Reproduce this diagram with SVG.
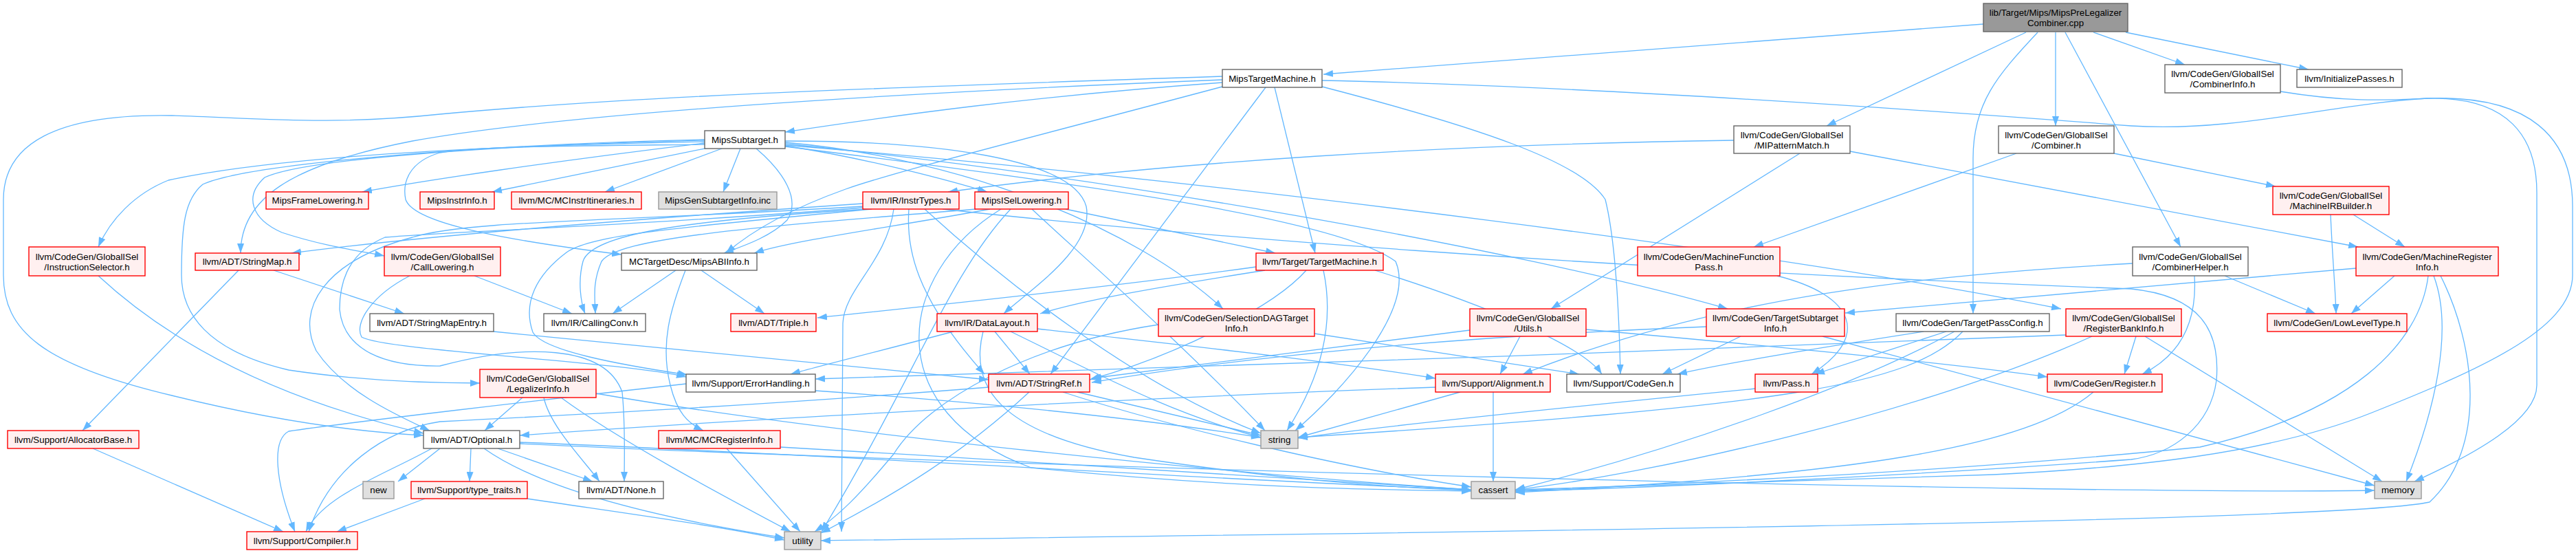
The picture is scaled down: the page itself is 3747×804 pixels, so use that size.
<svg xmlns="http://www.w3.org/2000/svg" width="3747" height="804" viewBox="0 0 3747 804">
<style>
.n rect{stroke-width:1.4}
.w rect{fill:#ffffff;stroke:#666666}
.r rect{fill:#fff0f0;stroke:#ff0000}
.g rect{fill:#e0e0e0;stroke:#999999}
.k rect{fill:#999999;stroke:#666666}
text{font-family:"Liberation Sans",Arial,Helvetica,sans-serif;font-size:13.33px;fill:#000;text-anchor:middle}
#edges path{fill:none;stroke:#63b8ff;stroke-width:1.3;marker-end:url(#a)}
</style>
<defs>
<marker id="a" markerUnits="userSpaceOnUse" markerWidth="14" markerHeight="10" refX="14" refY="5" orient="auto">
<path d="M0,0 L14,5 L0,10 z" fill="#63b8ff"/>
</marker>
</defs>
<rect width="3747" height="804" fill="#ffffff"/>
<g id="edges">
<path d="M2885,35 L1925,108"/>
<path d="M2947,47 L2657,183"/>
<path d="M2964,47 C2905,110 2870,150 2870,230 L2870,456"/>
<path d="M2990,47 L2990,183"/>
<path d="M3004,47 L3172,359"/>
<path d="M3045,47 L3178,94"/>
<path d="M3092,47 L3358,101"/>
<path d="M1778,120 C1500,140 1300,168 1142,192"/>
<path d="M1778,116 C1300,135 820,165 600,205 C420,240 350,290 350,368"/>
<path d="M1778,111 C1200,130 900,142 640,166 C480,183 380,172 250,168 C80,165 5,210 5,290 L5,400 C5,480 60,530 250,575 C400,612 520,628 616,633"/>
<path d="M1778,126 C1500,200 1300,250 1230,275 C1160,300 1100,330 1056,368"/>
<path d="M1841,127 L1528,544"/>
<path d="M1854,127 L1913,368"/>
<path d="M1923,126 C2150,185 2300,235 2335,290 C2350,350 2355,450 2357,544"/>
<path d="M1923,117 C2300,125 2800,160 3100,183 C3250,193 3400,150 3530,143 C3650,140 3690,200 3690,280 L3690,560 C3690,610 3600,660 3512,700"/>
<path d="M1025,208 C800,235 620,262 527,279"/>
<path d="M1030,215 L716,279"/>
<path d="M1050,216 L880,279"/>
<path d="M1077,216 L1052,279"/>
<path d="M1142,212 C1260,230 1380,262 1436,279"/>
<path d="M1025,206 C700,212 400,228 245,262 C195,282 160,320 143,359"/>
<path d="M1025,204 C700,212 440,232 385,258 C355,285 365,318 410,338 C470,358 530,366 559,372"/>
<path d="M1025,203 C700,210 360,238 295,268 C268,290 264,330 264,400 C264,455 300,510 420,538 C520,553 620,557 698,557"/>
<path d="M1025,210 C850,212 700,212 640,222 C595,235 585,265 590,290 C600,320 700,345 904,370"/>
<path d="M1100,216 C1140,250 1165,290 1145,320 C1120,345 1080,358 1053,368"/>
<path d="M1142,205 C1350,205 1560,228 1580,300 C1592,360 1500,420 1460,456"/>
<path d="M1142,207 C1400,230 1650,330 1779,449"/>
<path d="M1142,209 C1600,255 2200,360 2513,449"/>
<path d="M1142,211 C1800,265 2600,370 2998,449"/>
<path d="M1142,213 C1600,270 1950,320 2030,380 C2060,450 1950,570 1884,626"/>
<path d="M2522,204 C2100,210 1700,235 1379,279"/>
<path d="M2618,223 L2256,449"/>
<path d="M2691,220 L3430,359"/>
<path d="M2933,223 L2551,359"/>
<path d="M3075,223 L3310,271"/>
<path d="M3317,133 C3420,150 3480,145 3533,143 C3680,138 3742,200 3742,300 L3742,400 C3742,480 3600,540 3450,600 C3300,660 3100,680 2900,690 C2600,700 2400,708 2204,712"/>
<path d="M3102,383 C2800,400 2500,430 2215,544"/>
<path d="M3192,401 C3195,450 3185,510 3116,544"/>
<path d="M3236,401 L3368,456"/>
<path d="M2831,482 L2640,544"/>
<path d="M2798,482 C2650,505 2500,530 2440,544"/>
<path d="M2843,482 C2700,560 2450,650 2204,712"/>
<path d="M2855,482 C2780,560 2600,590 1888,636"/>
<path d="M1550,304 L1855,368"/>
<path d="M1440,304 C1300,330 1150,350 1097,368"/>
<path d="M1420,304 C1100,330 900,345 875,380 C862,410 865,430 866,456"/>
<path d="M1501,304 C1560,360 1700,480 1840,626"/>
<path d="M1470,304 C1380,400 1330,550 1195,773"/>
<path d="M1456,304 C1300,400 1280,600 1500,680 C1800,710 2000,712 2140,714"/>
<path d="M1255,296 C900,320 600,345 424,368"/>
<path d="M1255,300 C900,322 680,320 600,345 C470,380 430,450 460,510 C500,570 580,605 625,626"/>
<path d="M1255,302 C900,330 680,335 560,345 C500,370 494,420 494,450 C500,510 560,533 640,532 C760,500 880,500 905,570 C910,620 908,670 908,700"/>
<path d="M1262,304 C1000,320 860,340 848,380 C840,410 845,440 851,456"/>
<path d="M1268,304 C1000,330 860,340 824,367 C780,400 760,440 775,483 C790,510 900,530 1000,545"/>
<path d="M1322,304 C1318,360 1330,430 1432,544"/>
<path d="M1345,304 C1450,400 1650,560 1834,630"/>
<path d="M1300,304 C1290,380 1228,420 1226,470 L1224,773"/>
<path d="M1371,304 C1700,340 2300,390 3100,420 C3200,430 3230,480 3224,553 C3215,620 3160,660 3100,668 C2800,690 2400,710 2204,714"/>
<path d="M1827,388 C1600,420 1300,450 1189,462"/>
<path d="M1840,393 C1700,415 1580,435 1513,456"/>
<path d="M1900,393 C1850,450 1700,520 1585,552"/>
<path d="M2000,393 C2150,440 2300,500 2330,544"/>
<path d="M1925,393 C1935,440 1940,520 1872,626"/>
<path d="M398,393 L588,456"/>
<path d="M347,393 L120,626"/>
<path d="M690,401 L832,456"/>
<path d="M596,401 C540,430 515,470 526,490 C560,510 900,525 998,548"/>
<path d="M983,393 L891,456"/>
<path d="M1020,393 L1112,456"/>
<path d="M997,393 C975,450 960,500 975,560 C985,600 1000,615 1023,626"/>
<path d="M2585,401 C2700,430 2720,490 2635,544"/>
<path d="M3483,401 L3420,456"/>
<path d="M3427,390 L2684,455"/>
<path d="M3540,401 C3570,480 3540,600 3500,700"/>
<path d="M3550,401 C3600,500 3620,650 3534,730 C3400,760 2000,775 1194,786"/>
<path d="M3532,401 C3520,500 3420,600 3200,650 C2800,690 2400,704 2204,714"/>
<path d="M3423,312 L3498,359"/>
<path d="M3390,312 C3393,380 3397,420 3398,456"/>
<path d="M2482,475 C2100,490 1800,520 1588,556"/>
<path d="M2532,489 L2418,544"/>
<path d="M2651,489 L3454,706"/>
<path d="M2211,489 L2182,544"/>
<path d="M2138,480 C1900,510 1700,535 1588,550"/>
<path d="M2307,479 C2600,505 2850,530 2978,548"/>
<path d="M3107,489 L3090,544"/>
<path d="M3005,487 C2500,510 1500,540 1186,551"/>
<path d="M3043,489 C2800,600 2400,690 2204,712"/>
<path d="M3120,489 L3465,700"/>
<path d="M760,578 L705,626"/>
<path d="M791,578 C800,620 850,670 872,700"/>
<path d="M816,578 C900,640 1050,720 1150,773"/>
<path d="M867,572 C1200,630 1800,690 2140,712"/>
<path d="M998,558 C800,580 500,615 420,627 C395,640 400,700 429,773"/>
<path d="M1186,568 C1500,590 1700,615 1834,636"/>
<path d="M1438,563 C1100,590 800,605 640,613 C560,625 480,680 449,773"/>
<path d="M1497,570 C1400,660 1300,720 1194,775"/>
<path d="M1546,570 C1700,620 1950,680 2140,708"/>
<path d="M1567,570 L1834,633"/>
<path d="M2088,563 C1600,580 1000,615 756,633"/>
<path d="M2124,570 L1888,636"/>
<path d="M2172,570 L2172,700"/>
<path d="M2553,565 C2300,590 2000,620 1888,637"/>
<path d="M3045,570 C2950,650 2700,690 2204,716"/>
<path d="M135,652 L412,773"/>
<path d="M143,401 C250,500 400,580 616,630"/>
<path d="M628,652 C560,690 470,720 445,773"/>
<path d="M640,652 L579,700"/>
<path d="M685,652 L683,700"/>
<path d="M704,652 C800,720 1000,760 1141,782"/>
<path d="M724,652 L862,700"/>
<path d="M756,643 C1200,660 1800,700 2140,712"/>
<path d="M756,645 C1500,680 3000,720 3454,713"/>
<path d="M1057,652 L1164,773"/>
<path d="M1135,650 C1500,670 1900,700 2140,712"/>
<path d="M618,725 L490,773"/>
<path d="M767,725 C900,745 1050,765 1141,785"/>
<path d="M1447,482 L1498,544"/>
<path d="M1387,482 C1300,505 1200,530 1150,544"/>
<path d="M1430,482 C1410,560 1450,630 1650,665 C1850,695 2000,708 2140,713"/>
<path d="M1509,478 C1700,500 1900,520 2088,550"/>
<path d="M1470,482 C1600,545 1700,600 1834,636"/>
<path d="M1912,485 L2297,544"/>
<path d="M1685,472 C1500,500 1350,580 1300,660 C1250,720 1220,750 1185,773"/>
<path d="M718,482 C1000,510 1300,540 1438,552"/>
</g>
<g id="nodes">
<g id="n_root" class="n k"><rect x="2885" y="5" width="210" height="41"/><text x="2990" y="23">lib/Target/Mips/MipsPreLegalizer</text><text x="2990" y="38">Combiner.cpp</text></g>
<g id="n_mtm" class="n w"><rect x="1778" y="101" width="145" height="26"/><text x="1850.5" y="118.5">MipsTargetMachine.h</text></g>
<g id="n_combinerinfo" class="n w"><rect x="3149" y="94" width="168" height="41"/><text x="3233" y="112">llvm/CodeGen/GlobalISel</text><text x="3233" y="127">/CombinerInfo.h</text></g>
<g id="n_initpasses" class="n w"><rect x="3341" y="101" width="153" height="26"/><text x="3417.5" y="118.5">llvm/InitializePasses.h</text></g>
<g id="n_subtarget" class="n w"><rect x="1025" y="190" width="117" height="26"/><text x="1083.5" y="207.5">MipsSubtarget.h</text></g>
<g id="n_mipattern" class="n w"><rect x="2522" y="183" width="169" height="40"/><text x="2606.5" y="201">llvm/CodeGen/GlobalISel</text><text x="2606.5" y="216">/MIPatternMatch.h</text></g>
<g id="n_combiner" class="n w"><rect x="2907" y="183" width="168" height="40"/><text x="2991" y="201">llvm/CodeGen/GlobalISel</text><text x="2991" y="216">/Combiner.h</text></g>
<g id="n_framelow" class="n r"><rect x="387" y="279" width="149" height="25"/><text x="461.5" y="296">MipsFrameLowering.h</text></g>
<g id="n_instrinfo" class="n r"><rect x="611" y="279" width="108" height="25"/><text x="665" y="296">MipsInstrInfo.h</text></g>
<g id="n_mcitin" class="n r"><rect x="744" y="279" width="189" height="25"/><text x="838.5" y="296">llvm/MC/MCInstrItineraries.h</text></g>
<g id="n_gensti" class="n g"><rect x="958" y="279" width="172" height="25"/><text x="1044" y="296">MipsGenSubtargetInfo.inc</text></g>
<g id="n_instrtypes" class="n r"><rect x="1255" y="279" width="140" height="25"/><text x="1325" y="296">llvm/IR/InstrTypes.h</text></g>
<g id="n_isel" class="n r"><rect x="1418" y="279" width="136" height="25"/><text x="1486" y="296">MipsISelLowering.h</text></g>
<g id="n_mirb" class="n r"><rect x="3306" y="271" width="169" height="41"/><text x="3390.5" y="289">llvm/CodeGen/GlobalISel</text><text x="3390.5" y="304">/MachineIRBuilder.h</text></g>
<g id="n_instsel" class="n r"><rect x="42" y="359" width="169" height="42"/><text x="126.5" y="378">llvm/CodeGen/GlobalISel</text><text x="126.5" y="393">/InstructionSelector.h</text></g>
<g id="n_stringmap" class="n r"><rect x="284" y="368" width="151" height="25"/><text x="359.5" y="385">llvm/ADT/StringMap.h</text></g>
<g id="n_calllow" class="n r"><rect x="559" y="359" width="169" height="42"/><text x="643.5" y="378">llvm/CodeGen/GlobalISel</text><text x="643.5" y="393">/CallLowering.h</text></g>
<g id="n_abiinfo" class="n w"><rect x="904" y="368" width="197" height="25"/><text x="1002.5" y="385">MCTargetDesc/MipsABIInfo.h</text></g>
<g id="n_tm" class="n r"><rect x="1827" y="368" width="185" height="25"/><text x="1919.5" y="385">llvm/Target/TargetMachine.h</text></g>
<g id="n_mfp" class="n r"><rect x="2382" y="359" width="207" height="42"/><text x="2485.5" y="378">llvm/CodeGen/MachineFunction</text><text x="2485.5" y="393">Pass.h</text></g>
<g id="n_combhelper" class="n w"><rect x="3102" y="359" width="168" height="42"/><text x="3186" y="378">llvm/CodeGen/GlobalISel</text><text x="3186" y="393">/CombinerHelper.h</text></g>
<g id="n_mri" class="n r"><rect x="3427" y="359" width="207" height="42"/><text x="3530.5" y="378">llvm/CodeGen/MachineRegister</text><text x="3530.5" y="393">Info.h</text></g>
<g id="n_sme" class="n w"><rect x="538" y="456" width="180" height="26"/><text x="628" y="473.5">llvm/ADT/StringMapEntry.h</text></g>
<g id="n_callconv" class="n w"><rect x="791" y="456" width="148" height="26"/><text x="865" y="473.5">llvm/IR/CallingConv.h</text></g>
<g id="n_triple" class="n r"><rect x="1063" y="456" width="124" height="26"/><text x="1125" y="473.5">llvm/ADT/Triple.h</text></g>
<g id="n_datalayout" class="n r"><rect x="1363" y="456" width="146" height="26"/><text x="1436" y="473.5">llvm/IR/DataLayout.h</text></g>
<g id="n_sdagti" class="n r"><rect x="1685" y="449" width="227" height="40"/><text x="1798.5" y="467">llvm/CodeGen/SelectionDAGTarget</text><text x="1798.5" y="482">Info.h</text></g>
<g id="n_utils" class="n r"><rect x="2138" y="449" width="169" height="40"/><text x="2222.5" y="467">llvm/CodeGen/GlobalISel</text><text x="2222.5" y="482">/Utils.h</text></g>
<g id="n_tsi" class="n r"><rect x="2482" y="449" width="201" height="40"/><text x="2582.5" y="467">llvm/CodeGen/TargetSubtarget</text><text x="2582.5" y="482">Info.h</text></g>
<g id="n_tpc" class="n w"><rect x="2758" y="456" width="223" height="26"/><text x="2869.5" y="473.5">llvm/CodeGen/TargetPassConfig.h</text></g>
<g id="n_rbi" class="n r"><rect x="3005" y="449" width="168" height="40"/><text x="3089" y="467">llvm/CodeGen/GlobalISel</text><text x="3089" y="482">/RegisterBankInfo.h</text></g>
<g id="n_llt" class="n r"><rect x="3298" y="456" width="203" height="26"/><text x="3399.5" y="473.5">llvm/CodeGen/LowLevelType.h</text></g>
<g id="n_legal" class="n r"><rect x="698" y="537" width="169" height="41"/><text x="782.5" y="555">llvm/CodeGen/GlobalISel</text><text x="782.5" y="570">/LegalizerInfo.h</text></g>
<g id="n_errh" class="n w"><rect x="998" y="544" width="188" height="26"/><text x="1092" y="561.5">llvm/Support/ErrorHandling.h</text></g>
<g id="n_stringref" class="n r"><rect x="1438" y="544" width="147" height="26"/><text x="1511.5" y="561.5">llvm/ADT/StringRef.h</text></g>
<g id="n_align" class="n r"><rect x="2088" y="544" width="167" height="26"/><text x="2171.5" y="561.5">llvm/Support/Alignment.h</text></g>
<g id="n_codegen" class="n w"><rect x="2279" y="544" width="165" height="26"/><text x="2361.5" y="561.5">llvm/Support/CodeGen.h</text></g>
<g id="n_pass" class="n r"><rect x="2553" y="544" width="91" height="26"/><text x="2598.5" y="561.5">llvm/Pass.h</text></g>
<g id="n_register" class="n r"><rect x="2978" y="544" width="167" height="26"/><text x="3061.5" y="561.5">llvm/CodeGen/Register.h</text></g>
<g id="n_allocbase" class="n r"><rect x="11" y="626" width="191" height="26"/><text x="106.5" y="643.5">llvm/Support/AllocatorBase.h</text></g>
<g id="n_optional" class="n w"><rect x="616" y="626" width="140" height="26"/><text x="686" y="643.5">llvm/ADT/Optional.h</text></g>
<g id="n_mcri" class="n r"><rect x="958" y="626" width="177" height="26"/><text x="1046.5" y="643.5">llvm/MC/MCRegisterInfo.h</text></g>
<g id="n_string" class="n g"><rect x="1834" y="626" width="54" height="26"/><text x="1861" y="643.5">string</text></g>
<g id="n_new" class="n g"><rect x="528" y="700" width="45" height="25"/><text x="550.5" y="717">new</text></g>
<g id="n_typetraits" class="n r"><rect x="598" y="700" width="169" height="25"/><text x="682.5" y="717">llvm/Support/type_traits.h</text></g>
<g id="n_none" class="n w"><rect x="842" y="700" width="123" height="25"/><text x="903.5" y="717">llvm/ADT/None.h</text></g>
<g id="n_cassert" class="n g"><rect x="2140" y="700" width="64" height="25"/><text x="2172" y="717">cassert</text></g>
<g id="n_memory" class="n g"><rect x="3454" y="700" width="68" height="25"/><text x="3488" y="717">memory</text></g>
<g id="n_compiler" class="n r"><rect x="359" y="773" width="161" height="26"/><text x="439.5" y="790.5">llvm/Support/Compiler.h</text></g>
<g id="n_utility" class="n g"><rect x="1141" y="773" width="53" height="26"/><text x="1167.5" y="790.5">utility</text></g>
</g>
</svg>
